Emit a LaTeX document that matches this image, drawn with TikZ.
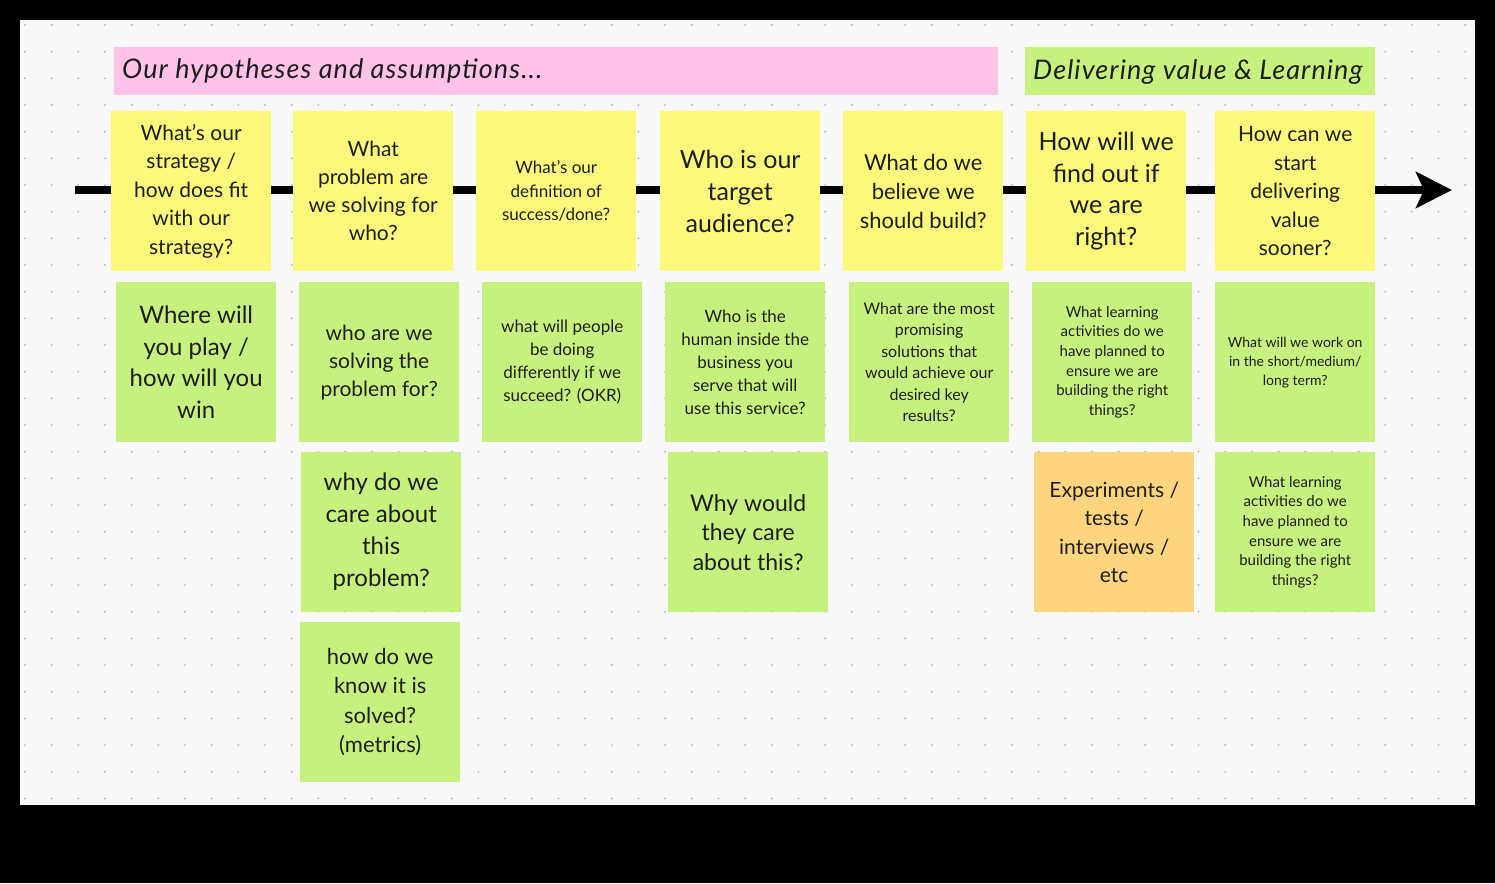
\documentclass[tikz,border=0pt]{standalone}
\usepackage{fontspec}
\setmainfont{Lato}
\usetikzlibrary{arrows.meta}
\definecolor{yel}{HTML}{FBF87C}
\definecolor{grn}{HTML}{C6F17E}
\definecolor{pnk}{HTML}{FFC2E8}
\definecolor{org}{HTML}{FDD57E}
\definecolor{canvas}{HTML}{F8F8F8}
\definecolor{dotc}{HTML}{BBBBBB}
\definecolor{txt}{HTML}{1E1E1E}
\newcommand{\fs}[2]{\fontsize{#1pt}{#2pt}\selectfont}
\begin{document}
\begin{tikzpicture}[x=1pt,y=-1pt,
  sticky/.style={minimum width=160pt,minimum height=160pt,inner sep=0pt,anchor=north west,draw=none},
  lbl/.style={align=center,text=txt,inner sep=0pt},
  hdr/.style={text=txt,font=\itshape\fs{27}{30},anchor=west,inner sep=0pt}]
\useasboundingbox (0,0) rectangle (1495,883);
\fill[black] (0,0) rectangle (1495,883);
\fill[canvas] (20,20) rectangle (1475,805);
\foreach \i in {0,...,54}{\foreach \j in {0,...,29}{
  \fill[dotc] ({25+26.67*\i},{25+26.67*\j}) circle (1.1);}}
% headers
\fill[pnk] (114,47) rectangle (998,95);
\node[hdr] (h1) at (122,71) {\addfontfeature{LetterSpace=4}Our hypotheses and assumptions...};
\fill[grn] (1025,47) rectangle (1375,95);
\node[hdr] (h2) at (1033,72) {\addfontfeature{LetterSpace=4}Delivering value \& Learning};
% arrow
\coordinate (as) at (75,190);
\coordinate (ae) at (1452,190);
\draw[line width=8pt,-{Stealth[length=36pt,width=36pt,inset=8pt]}] (as) -- (ae);
% row 1
\node[sticky,fill=yel] (y1) at (111,111) {};
\node[sticky,fill=yel] (y2) at (293,111) {};
\node[sticky,fill=yel] (y3) at (476,111) {};
\node[sticky,fill=yel] (y4) at (660,111) {};
\node[sticky,fill=yel] (y5) at (843,111) {};
\node[sticky,fill=yel] (y6) at (1026,111) {};
\node[sticky,fill=yel] (y7) at (1215,111) {};
\node[lbl,font=\fs{21}{28.5}] at (y1.center) {What's our\\strategy /\\how does fit\\with our\\strategy?};
\node[lbl,font=\fs{21}{28}] at (y2.center) {What\\problem are\\we solving for\\who?};
\node[lbl,font=\fs{17}{23.5}] at (y3.center) {What's our\\definition of\\success/done?};
\node[lbl,font=\fs{25}{32}] at (y4.center) {Who is our\\target\\audience?};
\node[lbl,font=\fs{22}{29}] at (y5.center) {What do we\\believe we\\should build?};
\node[lbl,font=\fs{25}{31.5}] at (y6.center) {How will we\\find out if\\we are\\right?};
\node[lbl,font=\fs{21}{28.5}] at (y7.center) {How can we\\start\\delivering\\value\\sooner?};
% row 2
\node[sticky,fill=grn] (g1) at (116,282) {};
\node[sticky,fill=grn] (g2) at (299,282) {};
\node[sticky,fill=grn] (g3) at (482,282) {};
\node[sticky,fill=grn] (g4) at (665,282) {};
\node[sticky,fill=grn] (g5) at (849,282) {};
\node[sticky,fill=grn] (g6) at (1032,282) {};
\node[sticky,fill=grn] (g7) at (1215,282) {};
\node[lbl,font=\fs{24}{31.5}] at (g1.center) {Where will\\you play /\\how will you\\win};
\node[lbl,font=\fs{21}{28}] at (g2.center) {who are we\\solving the\\problem for?};
\node[lbl,font=\fs{17}{23}] at (g3.center) {what will people\\be doing\\differently if we\\succeed? (OKR)};
\node[lbl,font=\fs{17}{23}] at (g4.center) {Who is the\\human inside the\\business you\\serve that will\\use this service?};
\node[lbl,font=\fs{16}{21.5}] at (g5.center) {What are the most\\promising\\solutions that\\would achieve our\\desired key\\results?};
\node[lbl,font=\fs{15}{19.7}] at (g6.center) {What learning\\activities do we\\have planned to\\ensure we are\\building the right\\things?};
\node[lbl,font=\fs{14}{19}] at (g7.center) {What will we work on\\in the short/medium/\\long term?};
% row 3
\node[sticky,fill=grn] (r2) at (301,452) {};
\node[sticky,fill=grn] (r4) at (668,452) {};
\node[sticky,fill=org] (r6) at (1034,452) {};
\node[sticky,fill=grn] (r7) at (1215,452) {};
\node[lbl,font=\fs{24}{32}] at (r2.center) {why do we\\care about\\this\\problem?};
\node[lbl,font=\fs{23}{29.5}] at (r4.center) {Why would\\they care\\about this?};
\node[lbl,font=\fs{21}{28.3}] at (r6.center) {Experiments /\\tests /\\interviews /\\etc};
\node[lbl,font=\fs{15}{19.7}] at (r7.center) {What learning\\activities do we\\have planned to\\ensure we are\\building the right\\things?};
% row 4
\node[sticky,fill=grn] (q2) at (300,622) {};
\node[lbl,font=\fs{22}{29.5}] at (q2.center) {how do we\\know it is\\solved?\\(metrics)};
\end{tikzpicture}
\end{document}
